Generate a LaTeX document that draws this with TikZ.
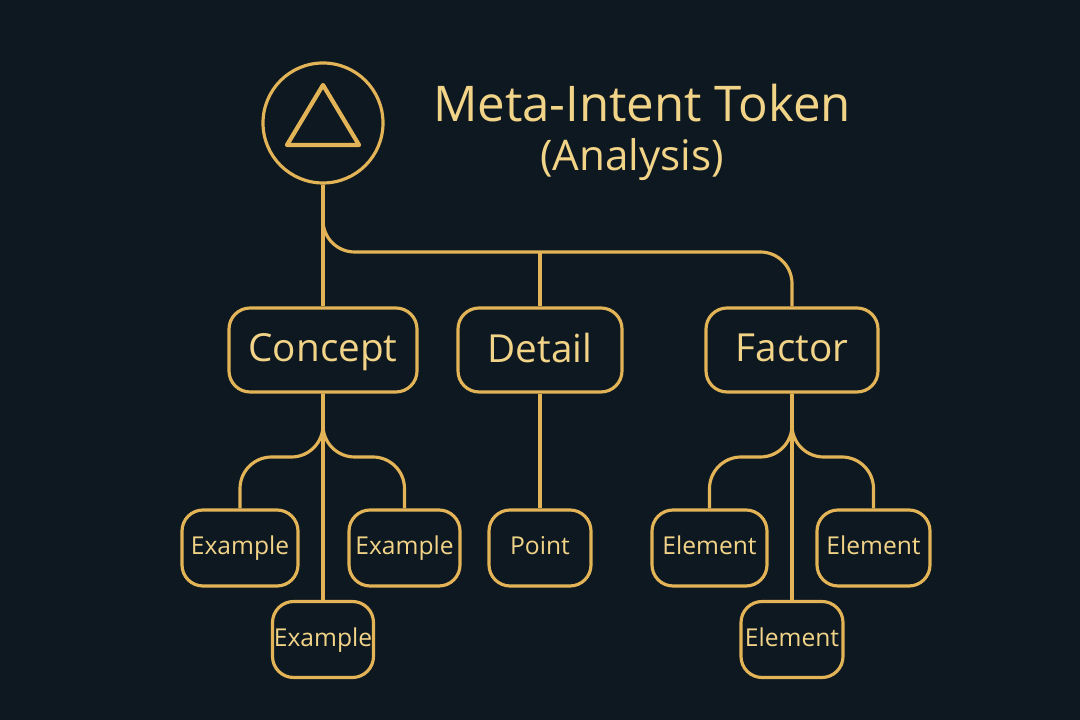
\documentclass[tikz,border=0pt]{standalone}
\usepackage{fontspec}
\setmainfont{Open Sans}
\usetikzlibrary{positioning,calc}
\definecolor{bgnavy}{HTML}{0E1820}
\definecolor{gold}{HTML}{E2B457}
\definecolor{goldtext}{HTML}{F2D488}

\begin{document}
\begin{tikzpicture}[
             y                = -1cm,
             wire/.style      = {gold, line width=0.9pt, rounded corners=9pt},
             box/.style       = {draw=gold, line width=0.9pt, rounded corners=6pt,
                                 text=goldtext, inner sep=0pt, text depth=0.25ex},
             big/.style       = {box, minimum height=0.84cm, font=\fontsize{11}{12}\selectfont},
             small/.style     = {box, minimum height=0.76cm, font=\fontsize{7}{8}\selectfont}]
             \fill [bgnavy] (0,0) rectangle (10.8,7.2);
             \useasboundingbox (0,0) rectangle (10.8,7.2);
             % token circle and title
             \node [circle, draw=gold, line width=0.9pt, minimum size=1.2cm] (token) at (3.23,1.23) {};
             \draw [gold, line width=1.2pt, line join=round] (3.23,0.85) -- (3.59,1.45) -- (2.87,1.45) -- cycle;
             \node [text=goldtext, font=\fontsize{14}{16}\selectfont] (title) at (6.42,1.03) {Meta-Intent Token};
             \node [text=goldtext, font=\fontsize{12}{14}\selectfont] (sub) at (6.32,1.60) {(Analysis)};
             % level one
             \node [big, minimum width=1.88cm] (concept) at (3.23,3.50) {Concept};
             \node [big, minimum width=1.64cm] (detail)  at (5.40,3.50) {Detail};
             \node [big, minimum width=1.72cm] (factor)  at (7.92,3.50) {Factor};
             % level two
             \node [small, minimum width=1.16cm] (exa) at (2.40,5.48) {Example};
             \node [small, minimum width=1.11cm] (exb) at (4.045,5.48) {Example};
             \node [small, minimum width=1.01cm] (exc) at (3.23,6.395) {Example};
             \node [small, minimum width=1.02cm] (point) at (5.40,5.48) {Point};
             \node [small, minimum width=1.15cm] (ela) at (7.095,5.48) {Element};
             \node [small, minimum width=1.13cm] (elb) at (8.735,5.48) {Element};
             \node [small, minimum width=1.02cm] (elc) at (7.92,6.395) {Element};
             % connectors
             \coordinate (top) at (3.23,2.52);
             \draw [wire] (token.south) -- (concept.north);
             \draw [wire] (token.south) -- (top) -| (factor.north);
             \draw [wire] (detail.north) -- (detail.north |- top);
             \coordinate (cj) at (3.23,4.57);
             \coordinate (fj) at (7.92,4.57);
             \draw [wire] (concept.south) -- (cj) -| (exa.north);
             \draw [wire] (concept.south) -- (cj) -| (exb.north);
             \draw [wire] (concept.south) -- (exc.north);
             \draw [wire] (detail.south) -- (point.north);
             \draw [wire] (factor.south) -- (fj) -| (ela.north);
             \draw [wire] (factor.south) -- (fj) -| (elb.north);
             \draw [wire] (factor.south) -- (elc.north);
\end{tikzpicture}
\end{document}
